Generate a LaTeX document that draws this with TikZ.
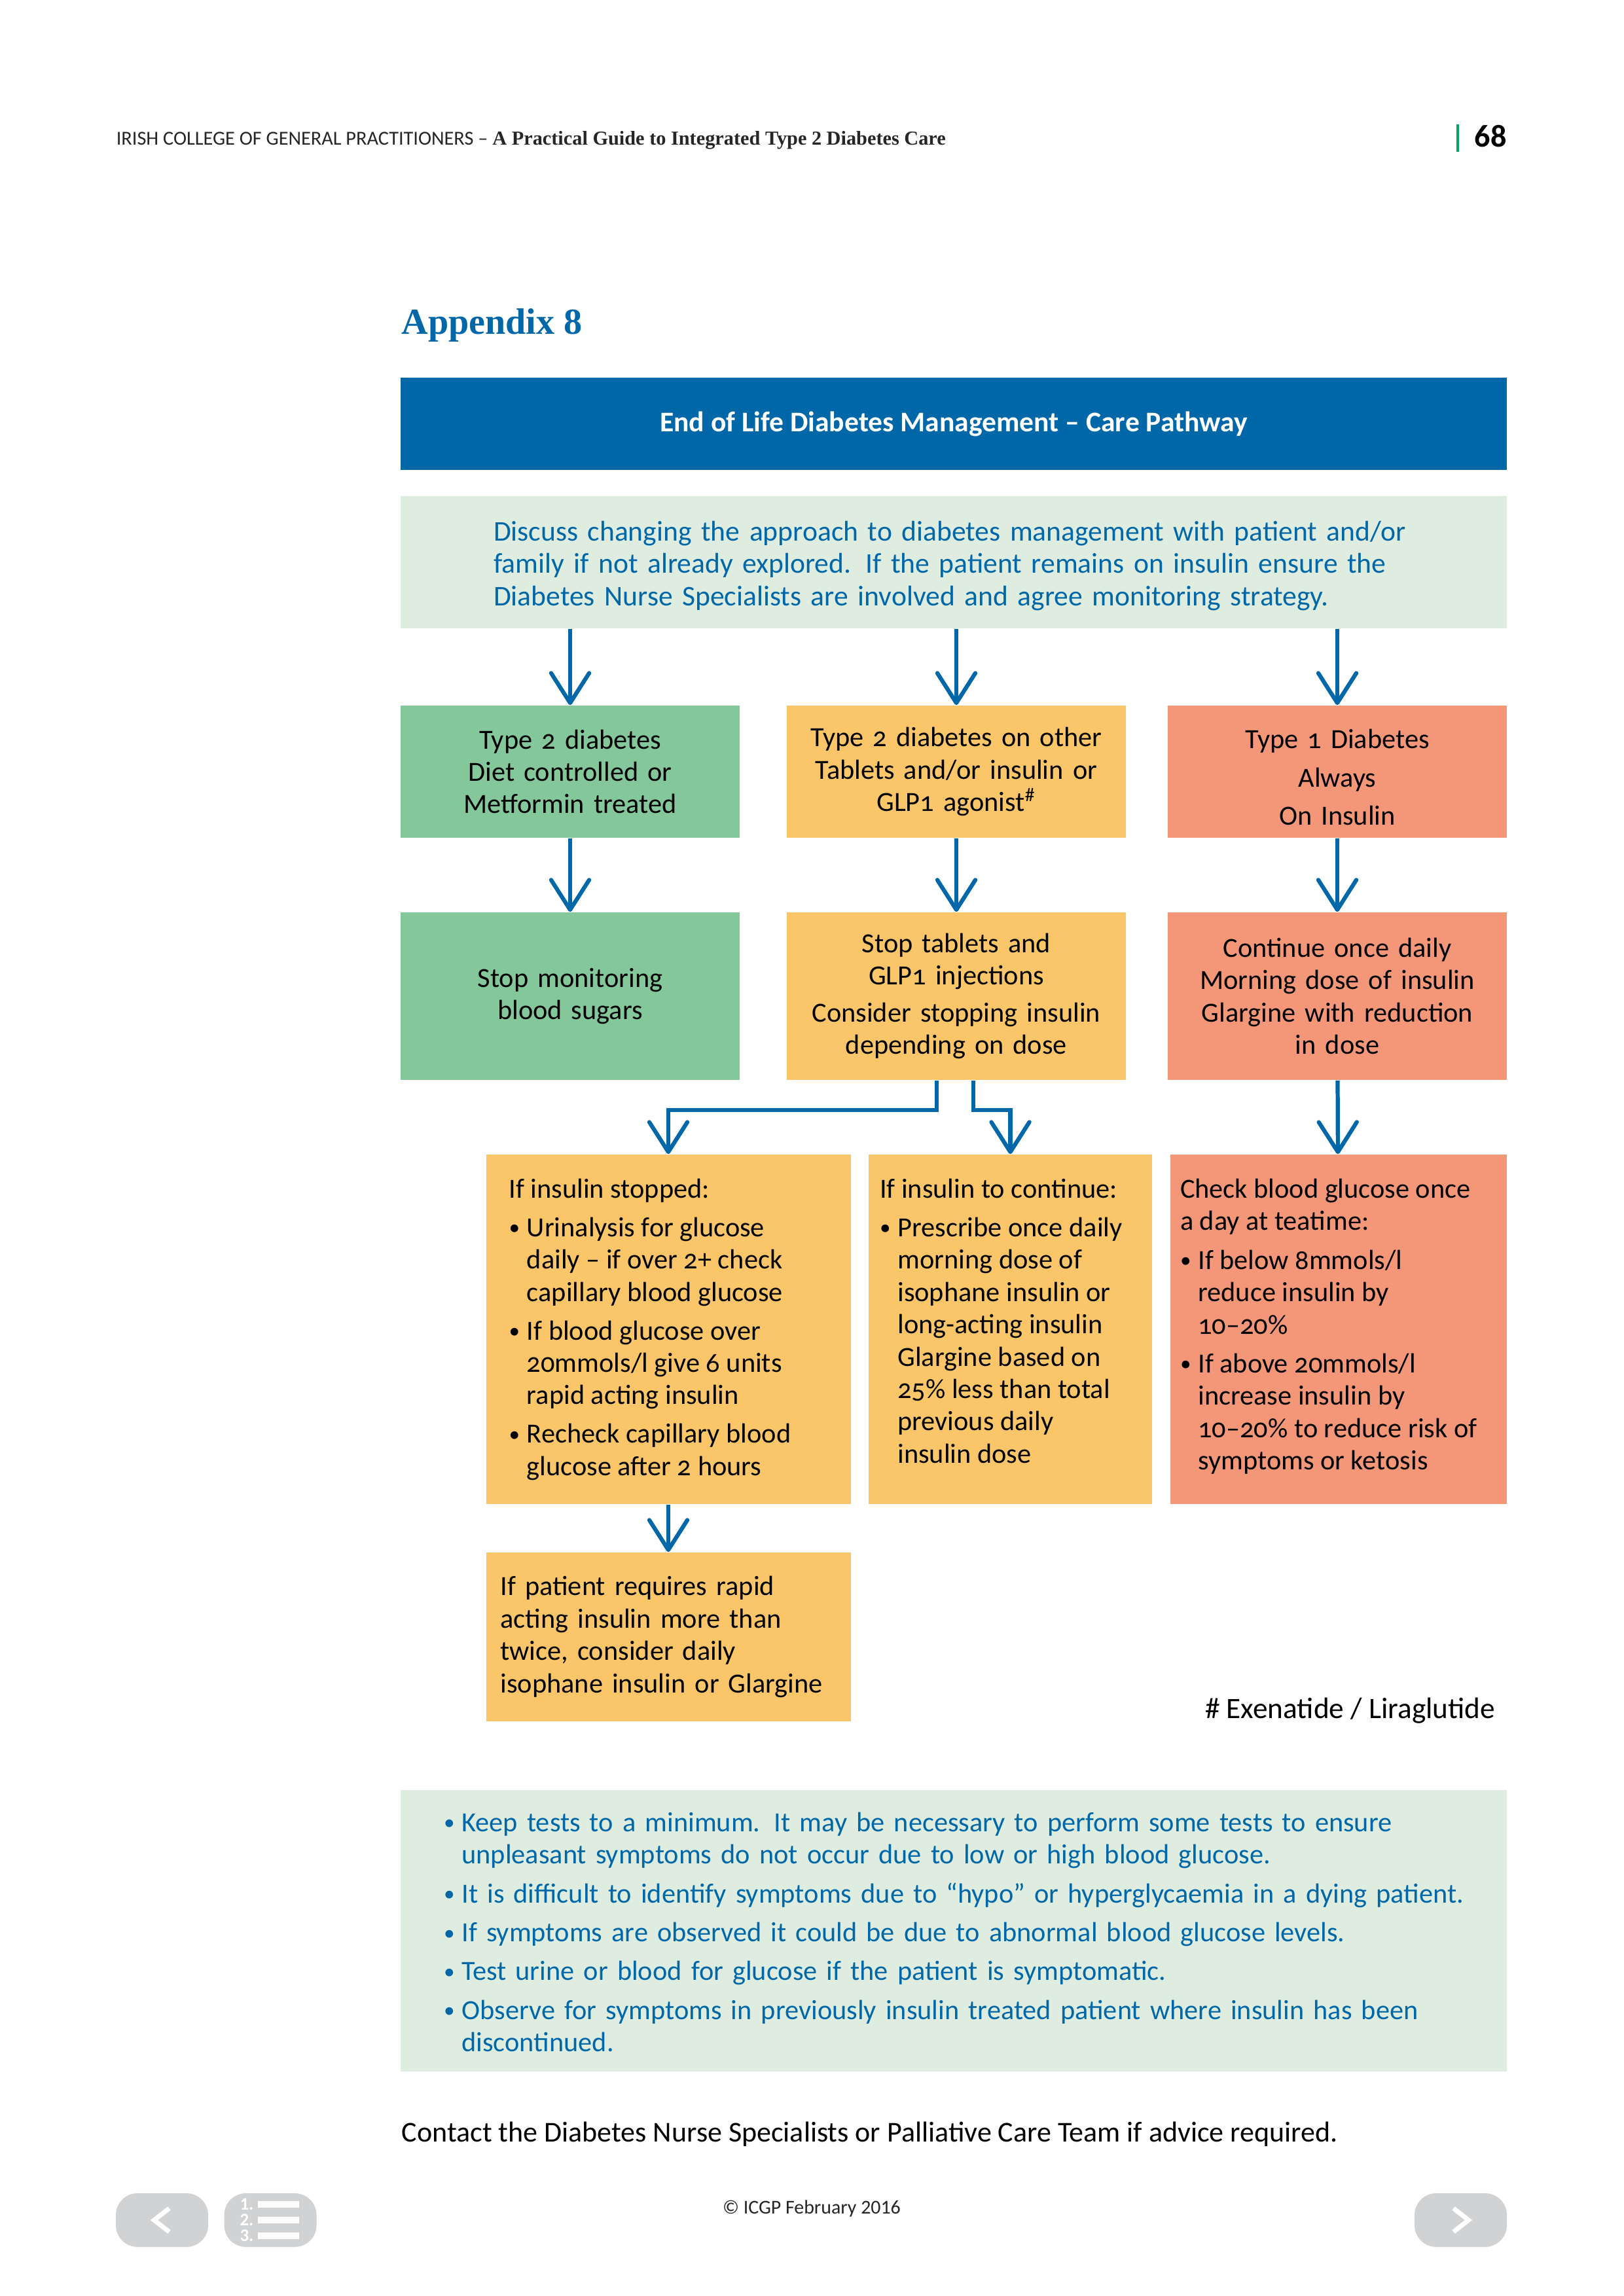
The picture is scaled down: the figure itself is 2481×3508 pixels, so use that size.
\documentclass[tikz,border=0pt]{standalone}
\usepackage{fontspec}
\setmainfont{Carlito}[Numbers=OldStyle]
\newfontfamily\headserif{Liberation Serif}
\usetikzlibrary{calc,arrows.meta}
\definecolor{icgpblue}{RGB}{0,103,168}
\definecolor{palegreen}{RGB}{222,237,224}
\definecolor{boxgreen}{RGB}{132,199,154}
\definecolor{boxyellow}{RGB}{251,198,106}
\definecolor{boxred}{RGB}{244,151,121}
\definecolor{navgray}{RGB}{209,210,212}
\definecolor{rulegreen}{RGB}{0,166,90}
\newlength{\pxu}\setlength{\pxu}{0.24086pt}
\newcommand{\boxfont}{\fontsize{10.2}{11.9}\selectfont}
\newcommand{\bul}{\par\let\\\newline\hangindent=6.6pt\hangafter=1\noindent
  \makebox[6.6pt][l]{\raisebox{0.6pt}{\fontsize{8}{8}\selectfont\textbullet}}}

\begin{document}
\begin{tikzpicture}[x=0.24086pt, y=-0.24086pt,
  box/.style={rectangle, inner sep=0pt, minimum width=518\pxu, minimum height=202\pxu, text width=505\pxu, align=center, font=\boxfont},
  flow/.style={draw=icgpblue, line width=1.5pt, -{Straight Barb[round, length=11pt, width=14pt]}},
  navbtn/.style={fill=navgray, minimum width=141\pxu, minimum height=82\pxu, rounded corners=8pt, inner sep=0pt}]
  \useasboundingbox[fill=white] (0,0) rectangle (2481,3508);

  % page header
  \node[anchor=base west, inner sep=0pt, text=black!85, font=\fontsize{7.3}{8}\selectfont] (hdr) at (177,221)
    {IRISH COLLEGE OF GENERAL PRACTITIONERS – {\headserif\bfseries A Practical Guide to Integrated Type 2 Diabetes Care}};
  \draw[rulegreen, line width=0.8pt] (2227,190) -- (2227,232);
  \node[anchor=base west, inner sep=0pt, font=\bfseries\fontsize{11.6}{14}\selectfont\addfontfeatures{Numbers=Lining}] (pg) at (2252,224) {68};

  \node[anchor=base west, inner sep=0pt, text=icgpblue, font=\headserif\bfseries\fontsize{13.5}{16}\selectfont] (app) at (613,510) {Appendix 8};

  % title and introduction
  \node[fill=icgpblue, minimum width=1690\pxu, minimum height=141\pxu, text=white, font=\bfseries\fontsize{10.5}{12}\selectfont] (title) at (1457,647.5)
    {End of Life Diabetes Management – Care Pathway};
  \node[fill=palegreen, minimum width=1690\pxu, minimum height=202\pxu, inner xsep=142\pxu, text width=1406\pxu, align=left, text=icgpblue, font=\fontsize{10.5}{11.9}\selectfont] (intro) at (1457,859)
    {\rule{0pt}{9.8pt}Discuss changing the approach to diabetes management with patient and/or\\
     family if not already explored. If the patient remains on insulin ensure the\\
     Diabetes Nurse Specialists are involved and agree monitoring strategy.};

  % first row
  \node[box, fill=boxgreen] (11) at (871,1179) {Type 2 diabetes\\ Diet controlled or\\ Metformin treated};
  \node[box, fill=boxyellow] (12) at (1461,1179) {Type 2 diabetes on other\\ Tablets and/or insulin or\\ GLP1 agonist\textsuperscript{\#}};
  \node[box, fill=boxred] (13) at (2043,1179) {\rule{0pt}{11.2pt}Type 1 Diabetes\\[2.2pt] Always\\[2.2pt] On Insulin};

  % second row
  \node[box, fill=boxgreen, minimum height=256\pxu] (21) at (871,1522) {Stop monitoring\\ blood sugars};
  \node[box, fill=boxyellow, minimum height=256\pxu] (22) at (1461,1522) {Stop tablets and\\ GLP1 injections\\[1.8pt] Consider stopping insulin\\ depending on dose};
  \node[box, fill=boxred, minimum height=256\pxu] (23) at (2043,1522) {Continue once daily\\ Morning dose of insulin\\ Glargine with reduction\\ in dose};

  % third row
  \node[fill=boxyellow, inner xsep=35\pxu, inner ysep=0pt, minimum width=557\pxu, minimum height=534\pxu, font=\boxfont] (31) at (1021,2031)
    {\parbox[c][460\pxu][t]{487\pxu}{\raggedright\setlength{\parskip}{2.3pt}%
     If insulin stopped:
     \bul Urinalysis for glucose\\ daily – if over 2+ check\\ capillary blood glucose
     \bul If blood glucose over\\ 20mmols/l give 6 units\\ rapid acting insulin
     \bul Recheck capillary blood\\ glucose after 2 hours}};
  \node[fill=boxyellow, inner xsep=17\pxu, inner ysep=0pt, minimum width=433\pxu, minimum height=534\pxu, font=\boxfont] (32) at (1543.5,2031)
    {\parbox[c][460\pxu][t]{399\pxu}{\raggedright\setlength{\parskip}{2.3pt}%
     If insulin to continue:
     \bul Prescribe once daily\\ morning dose of\\ isophane insulin or\\ long-acting insulin\\ Glargine based on\\ 25\% less than total\\ previous daily\\ insulin dose}};
  \node[fill=boxred, inner xsep=15\pxu, inner ysep=0pt, minimum width=514\pxu, minimum height=534\pxu, font=\boxfont] (33) at (2045,2031)
    {\parbox[c][460\pxu][t]{484\pxu}{\raggedright\setlength{\parskip}{2.4pt}%
     Check blood glucose once\\ a day at teatime:
     \bul If below 8mmols/l\\ reduce insulin by\\ 10–20\%
     \bul If above 20mmols/l\\ increase insulin by\\ 10–20\% to reduce risk of\\ symptoms or ketosis}};

  % fourth row
  \node[fill=boxyellow, minimum width=557\pxu, minimum height=258\pxu, inner xsep=22\pxu, text width=513\pxu, align=left, font=\boxfont] (41) at (1021,2501)
    {If patient requires rapid\\ acting insulin more than\\ twice, consider daily\\ isophane insulin or Glargine};
  \node[anchor=base east, inner sep=0pt, font=\fontsize{10.9}{12}\selectfont] (fn) at (2285,2625) {\# Exenatide / Liraglutide};

  % arrows
  \draw[flow] (11 |- intro.south) -- (11.north);
  \draw[flow] (12 |- intro.south) -- (12.north);
  \draw[flow] (13 |- intro.south) -- (13.north);
  \draw[flow] (11) -- (21);
  \draw[flow] (12) -- (22);
  \draw[flow] (13) -- (23);
  \draw[flow] ($(22.south)+(-30,0)$) -- ++(0,45) -| (31.north);
  \draw[flow] ($(22.south)+(26,0)$) -- ++(0,45) -| (32.north);
  \draw[flow] (23) -- (33);
  \draw[flow] (31) -- (41);

  % notes
  \node[fill=palegreen, minimum width=1690\pxu, minimum height=430\pxu, inner xsep=0pt, inner ysep=0pt, text width=1690\pxu, align=left, text=icgpblue, font=\boxfont] (notes) at (1457,2950)
    {\setlength{\parskip}{2.4pt}\leftskip=66\pxu\rightskip=20\pxu plus 1fil%
     \bul Keep tests to a minimum. It may be necessary to perform some tests to ensure\\ unpleasant symptoms do not occur due to low or high blood glucose.
     \bul It is difficult to identify symptoms due to “hypo” or hyperglycaemia in a dying patient.
     \bul If symptoms are observed it could be due to abnormal blood glucose levels.
     \bul Test urine or blood for glucose if the patient is symptomatic.
     \bul Observe for symptoms in previously insulin treated patient where insulin has been\\ discontinued.\par\vspace{26\pxu}};
  \node[anchor=base west, inner sep=0pt, font=\fontsize{10.6}{12}\selectfont] (contact) at (613,3272)
    {Contact the Diabetes Nurse Specialists or Palliative Care Team if advice required.};

  % footer
  \node[inner sep=0pt, text=black!85, font=\fontsize{7.2}{8}\selectfont\addfontfeatures{Numbers=Lining}] (copy) at (1240,3374) {© ICGP February 2016};
  \node[navbtn] (prev) at (247.5,3392) {};
  \node[navbtn] (toc) at (413,3392) {};
  \node[navbtn] (next) at (2231.5,3392) {};
  \draw[white, line width=1.7pt] ($(prev)+(11,-18)$) -- ($(prev)+(-12,0)$) -- ($(prev)+(11,18)$);
  \draw[white, line width=1.7pt] ($(next)+(-11,-18)$) -- ($(next)+(12,0)$) -- ($(next)+(-11,18)$);
  \foreach \i/\yy in {1/-24,2/0,3/24} {
    \node[inner sep=0pt, text=white, font=\bfseries\fontsize{6.5}{7}\selectfont\addfontfeatures{Numbers=Lining}] at ($(toc)+(-36,\yy)$) {\i.};
    \fill[white] ($(toc)+(-19,\yy-5)$) rectangle ($(toc)+(44,\yy+5)$);
  }
\end{tikzpicture}
\end{document}
